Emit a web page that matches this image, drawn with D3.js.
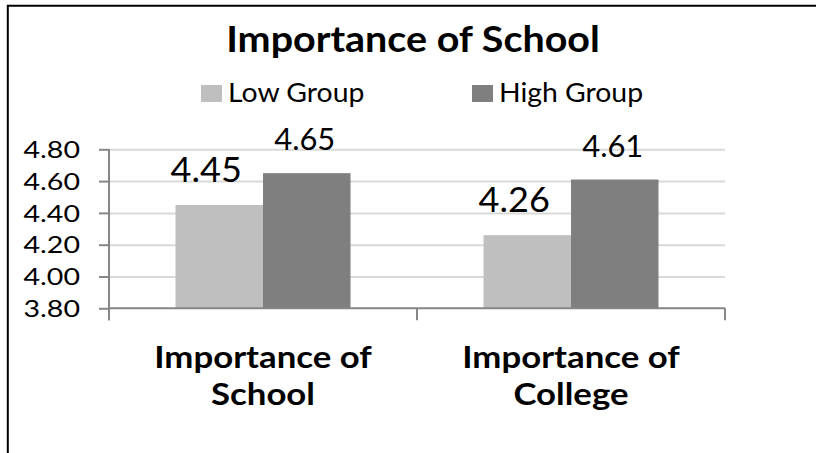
<!DOCTYPE html>
<html>
<head>
<meta charset="utf-8">
<script src="https://cdn.jsdelivr.net/npm/d3@7"></script>
<style>
	body { margin: 0; background: #fff; }
	svg { display: block; font-family: Lato, "Open Sans", sans-serif; }
</style>
</head>
<body>
<div id="chart"></div>
<script>
// --- DATA --- \\
var categories = [["Importance of", "School"], ["Importance of", "College"]];
var seriesNames = ["Low Group", "High Group"];
var lowValues = [4.45, 4.26];
var highValues = [4.65, 4.61];
var yTicks = [3.80, 4.00, 4.20, 4.40, 4.60, 4.80];
var chartTitle = "Importance of School";

var width = 816, height = 453
	, plot = {left: 109, right: 725, top: 149.3, bottom: 308.3}
	, colors = ["#bfbfbf", "#7f7f7f"]
	, axisColor = "#868686", gridColor = "#d9d9d9";

// Lato is wider-set than the original font in places, so widen text to fit
function stretch(sel, k) {
	sel.each(function () {
		var len = this.getComputedTextLength();
		d3.select(this).attr("textLength", len * k).attr("lengthAdjust", "spacingAndGlyphs");
	});
}

var svg = d3.select("#chart").append("svg")
	.attr("width", width)
	.attr("height", height);

// Only the top and left edges of the frame show in the picture
svg.append("path")
	.attr("d", "M7.8," + height + "V5.8H" + width)
	.attr("fill", "none")
	.attr("stroke", "#000")
	.attr("stroke-width", 2);

var series = seriesNames.map(function (name, i) {
	return {name: name, values: i === 0 ? lowValues : highValues};
});
var catKeys = categories.map(function (c) { return c.join(" "); });

// --- SCALES --- \\
var x0 = d3.scaleBand().domain(catKeys).range([plot.left, plot.right]);
// bars sit in the middle of each category with wide gaps either side
var x1 = d3.scaleBand().domain(seriesNames).range([0, x0.bandwidth()]).paddingOuter(0.76);
var y = d3.scaleLinear().domain([3.8, 4.8]).range([plot.bottom, plot.top]);

// --- GRID --- \\
svg.append("g")
	.attr("transform", "translate(" + plot.left + ",0)")
	.call(d3.axisLeft(y).tickValues(yTicks.slice(1)).tickSize(-(plot.right - plot.left)).tickFormat(""))
	.call(function (g) {
		g.select(".domain").remove();
		g.selectAll("line").attr("stroke", gridColor).attr("stroke-width", 2);
	});

// --- BARS --- \\
var barGroups = svg.append("g").selectAll("g")
	.data(series)
	.join("g")
	.attr("fill", function (d, i) { return colors[i]; });

barGroups.selectAll("rect")
	.data(function (s) {
		return s.values.map(function (v, j) { return {name: s.name, cat: catKeys[j], value: v}; });
	})
	.join("rect")
	.attr("x", function (d) { return x0(d.cat) + x1(d.name); })
	.attr("y", function (d) { return y(d.value); })
	.attr("width", x1.bandwidth())
	.attr("height", function (d) { return y(3.8) - y(d.value); });

// --- AXES --- \\
svg.append("g")
	.attr("transform", "translate(" + plot.left + ",0)")
	.call(d3.axisLeft(y).tickValues(yTicks).tickSize(10).tickPadding(19).tickFormat(d3.format(".2f")))
	.call(function (g) {
		g.select(".domain").attr("stroke", axisColor).attr("stroke-width", 2)
			.attr("d", "M0," + plot.top + "V" + (plot.bottom + 12));
		g.selectAll("line").attr("stroke", axisColor).attr("stroke-width", 2);
		g.selectAll("text").attr("font-family", "Lato, sans-serif")
			.attr("font-size", 22.5).attr("fill", "#000").attr("dy", "0.36em")
			.call(stretch, 1.27);
	});

// baseline plus the category divider ticks
var edges = catKeys.map(function (k) { return x0(k); }).concat([plot.right]);
var xAxis = svg.append("g").attr("stroke", axisColor).attr("stroke-width", 2);
xAxis.append("line")
	.attr("x1", plot.left).attr("x2", plot.right)
	.attr("y1", y(3.8)).attr("y2", y(3.8));
xAxis.selectAll(".cat-tick").data(edges).join("line")
	.attr("class", "cat-tick")
	.attr("x1", function (d) { return d; }).attr("x2", function (d) { return d; })
	.attr("y1", y(3.8)).attr("y2", y(3.8) + 12);

// category labels, one text per line so each can be fitted
var catLines = [];
categories.forEach(function (c, i) {
	c.forEach(function (t, k) { catLines.push({text: t, cat: catKeys[i], line: k}); });
});
svg.append("g").selectAll("text")
	.data(catLines)
	.join("text")
	.attr("text-anchor", "middle")
	.attr("font-weight", "bold")
	.attr("font-size", 30.5)
	.attr("x", function (d) { return x0(d.cat) + x0.bandwidth() / 2; })
	.attr("y", function (d) { return 368 + d.line * 37; })
	.text(function (d) { return d.text; })
	.call(stretch, 1.14);

// --- DATA LABELS --- \\
// low group labels are larger and nudged left of their bars
var labelSize = [35, 30], labelShift = [-13, -2];
barGroups.selectAll("text")
	.data(function (s, i) {
		return s.values.map(function (v, j) { return {name: s.name, cat: catKeys[j], value: v, s: i}; });
	})
	.join("text")
	.attr("fill", "#000")
	.attr("text-anchor", "middle")
	.attr("font-size", function (d) { return labelSize[d.s]; })
	.attr("x", function (d) { return x0(d.cat) + x1(d.name) + x1.bandwidth() / 2 + labelShift[d.s]; })
	.attr("y", function (d) { return y(d.value) - 23; })
	.text(function (d) { return d3.format(".2f")(d.value); })
	.call(stretch, 1.03);

// --- TITLE & LEGEND --- \\
svg.append("text")
	.attr("x", 413).attr("y", 51.7)
	.attr("text-anchor", "middle")
	.attr("font-weight", "bold")
	.attr("font-size", 37)
	.text(chartTitle)
	.call(stretch, 1.066);

var legendX = [201, 472];
var legend = svg.append("g").selectAll("g")
	.data(seriesNames)
	.join("g")
	.attr("transform", function (d, i) { return "translate(" + legendX[i] + ",85)"; });
legend.append("rect")
	.attr("width", 21).attr("height", 17)
	.attr("fill", function (d, i) { return colors[i]; });
legend.append("text")
	.attr("x", 27).attr("y", 16.7)
	.attr("font-size", 26.5)
	.text(function (d) { return d; })
	.call(stretch, 1.07);
</script>
</body>
</html>
